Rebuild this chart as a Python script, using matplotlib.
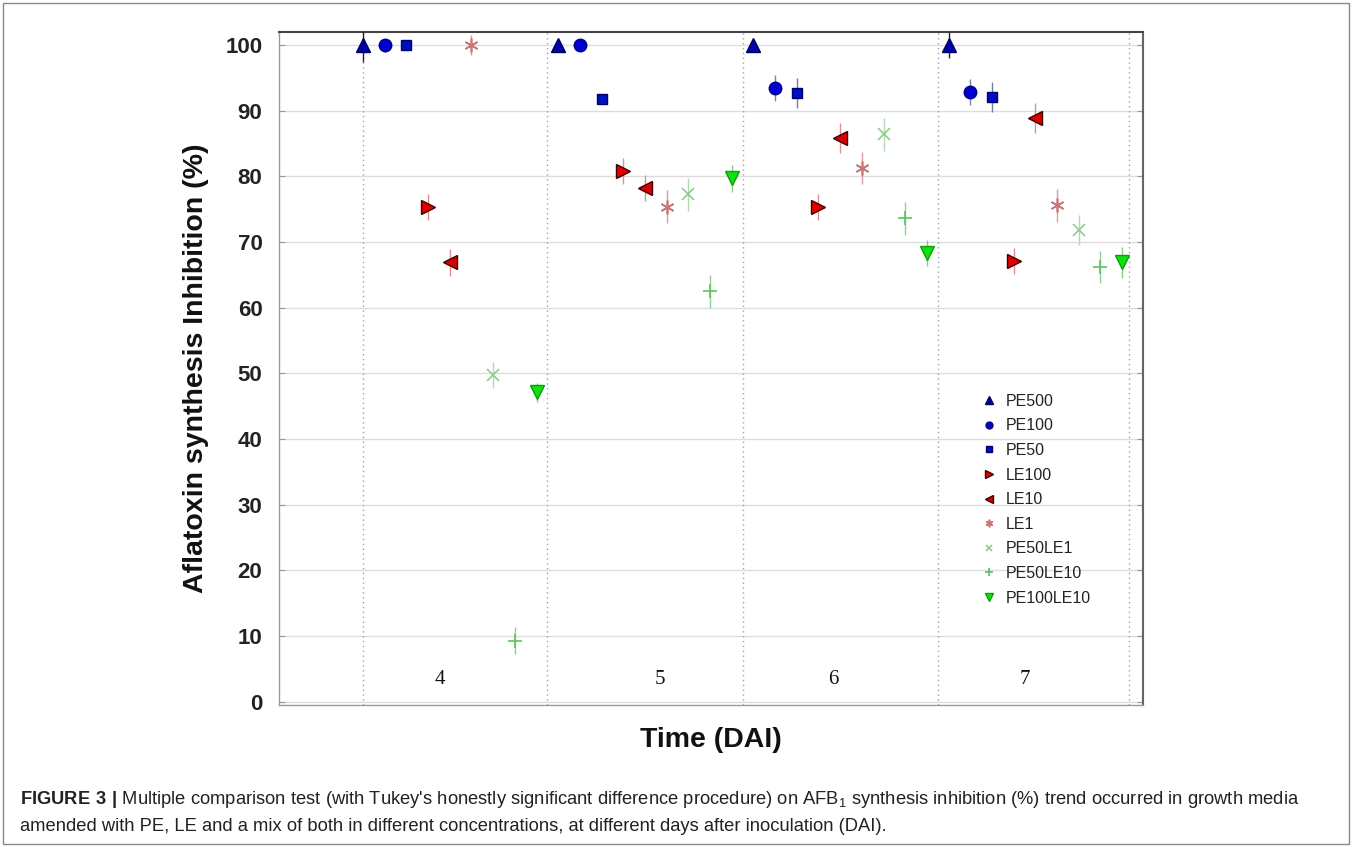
import numpy as np
import matplotlib
matplotlib.use("Agg")
import matplotlib.pyplot as plt
from matplotlib.patches import Rectangle

# -----------------------------
# Data
# -----------------------------
days = ["4", "5", "6", "7"]
series = ["PE500", "PE100", "PE50", "LE100", "LE10", "LE1",
          "PE50LE1", "PE50LE10", "PE100LE10"]

pe500 = [100.0, 100.0, 100.0, 100.0]
pe100 = [100.0, 100.0, 93.5, 92.9]
pe50 = [100.0, 91.8, 92.7, 92.1]
le100 = [75.4, 80.8, 75.4, 67.1]
le10 = [66.9, 78.2, 85.9, 88.9]
le1 = [100.0, 75.4, 81.3, 75.6]
pe50le1 = [49.8, 77.3, 86.4, 71.9]
pe50le10 = [9.3, 62.5, 73.6, 66.2]
pe100le10 = [47.1, 79.7, 68.3, 66.9]

pe500_err = [2.5, 0.8, 0.8, 2.0]
pe100_err = [1.0, 0.8, 2.0, 2.0]
pe50_err = [0.8, 0.8, 2.3, 2.3]
le100_err = [2.0, 2.0, 2.0, 2.0]
le10_err = [2.0, 2.0, 2.3, 2.3]
le1_err = [1.5, 2.5, 2.5, 2.5]
pe50le1_err = [2.0, 2.5, 2.5, 2.3]
pe50le10_err = [2.0, 2.5, 2.5, 2.5]
pe100le10_err = [1.5, 2.0, 2.0, 2.3]

values = [pe500, pe100, pe50, le100, le10, le1, pe50le1, pe50le10, pe100le10]
errors = [pe500_err, pe100_err, pe50_err, le100_err, le10_err, le1_err,
          pe50le1_err, pe50le10_err, pe100le10_err]

# marker style per series
markers = ["^", "o", "s", ">", "<", (6, 2, 0), "x", "+", "v"]
colors = ["#0000a8", "#0000d0", "#0010c0", "#e00000", "#d80000", "#c87878",
          "#90cc90", "#60c060", "#10e010"]
edges = ["#000060", "#000080", "#000070", "#400000", "#400000", "#c87878",
         "#90cc90", "#60c060", "#08a008"]
msizes = [10, 9, 7, 10, 10, 10, 8, 10, 10]
ecolors = ["#202040", "#8080a0", "#7080a0", "#e09090", "#e09090", "#d8a0a0",
           "#b0dab0", "#90d090", "#80d080"]

# -----------------------------
# Figure
# -----------------------------
plt.rcParams["font.family"] = ["Liberation Sans", "DejaVu Sans"]
plt.rcParams["mathtext.fontset"] = "custom"
plt.rcParams["mathtext.rm"] = "Liberation Sans"
plt.rcParams["mathtext.bf"] = "Liberation Sans:bold"
plt.rcParams["mathtext.default"] = "regular"

fig = plt.figure(figsize=(13.52, 8.47), dpi=100)
ax = fig.add_axes([0.2064, 0.1677, 0.6390, 0.7945])

n_series = len(series)
for s in range(n_series):
    xs = np.arange(len(days)) * n_series + s
    ax.errorbar(xs, values[s], yerr=errors[s], fmt="none", ecolor=ecolors[s],
                elinewidth=1.0, capsize=0, zorder=3)
    ax.plot(xs, values[s], linestyle="none", marker=markers[s], color=colors[s],
            markeredgecolor=edges[s], markersize=msizes[s],
            markeredgewidth=1.0 if markers[s] not in ["x", "+", (6, 2, 0)] else 1.2,
            label=series[s], zorder=4)

# day separators
for xv in [0, 8.5, 17.5, 26.5, 35.3]:
    ax.axvline(xv, color="#a0a0a0", linestyle=(0, (1, 2.5)), linewidth=1.0, zorder=1)

# day labels inside the axes
for d, xd in zip(days, [3.55, 13.7, 21.7, 30.5]):
    ax.text(xd, 2.0, d, ha="center", va="bottom", fontsize=15,
            family="Liberation Serif", color="#111111")

ax.set_xlim(-3.87, 35.96)
ax.set_ylim(-0.5, 102)
ax.set_yticks(np.arange(0, 101, 10))
ax.set_xticks([])
ax.yaxis.grid(True, color="#dddddd", linewidth=1.0)
ax.set_axisbelow(True)
ax.tick_params(axis="y", direction="in", length=4, color="#999999",
               labelsize=16, pad=12, right=True)
for lab in ax.get_yticklabels():
    lab.set_fontweight("bold")
    lab.set_color("#222222")

for side in ["left", "bottom"]:
    ax.spines[side].set_color("#9a9a9a")
    ax.spines[side].set_linewidth(1.0)
ax.spines["top"].set_color("#444444")
ax.spines["top"].set_linewidth(1.5)
ax.spines["right"].set_color("#666666")
ax.spines["right"].set_linewidth(1.5)

ax.set_ylabel("Aflatoxin synthesis Inhibition (%)", fontsize=20.5,
              fontweight="bold", labelpad=12, color="#111111")
ax.set_xlabel("Time (DAI)", fontsize=20.5, fontweight="bold", labelpad=16,
              color="#111111")

leg = ax.legend(loc="center left", bbox_to_anchor=(0.80, 0.305), frameon=False,
                fontsize=11.5, markerscale=0.55, handlelength=0.8, handletextpad=0.6,
                labelspacing=0.6, borderpad=0.3)
for t in leg.get_texts():
    t.set_color("#222222")

# caption
fig.text(0.015, 0.056,
         r"$\bf{FIGURE\ 3\ |}$ Multiple comparison test (with Tukey's honestly significant "
         r"difference procedure) on AFB$_1$ synthesis inhibition (%) trend occurred in growth media",
         fontsize=13.2, ha="left", va="center", color="#222222")
fig.text(0.015, 0.024,
         "amended with PE, LE and a mix of both in different concentrations, at different "
         "days after inoculation (DAI).",
         fontsize=13.2, ha="left", va="center", color="#222222")

# outer frame
fig.patches.append(Rectangle((0.002, 0.003), 0.996, 0.994, transform=fig.transFigure,
                             fill=False, edgecolor="#888888", linewidth=1.0))

fig.savefig("out.png", dpi=100)
